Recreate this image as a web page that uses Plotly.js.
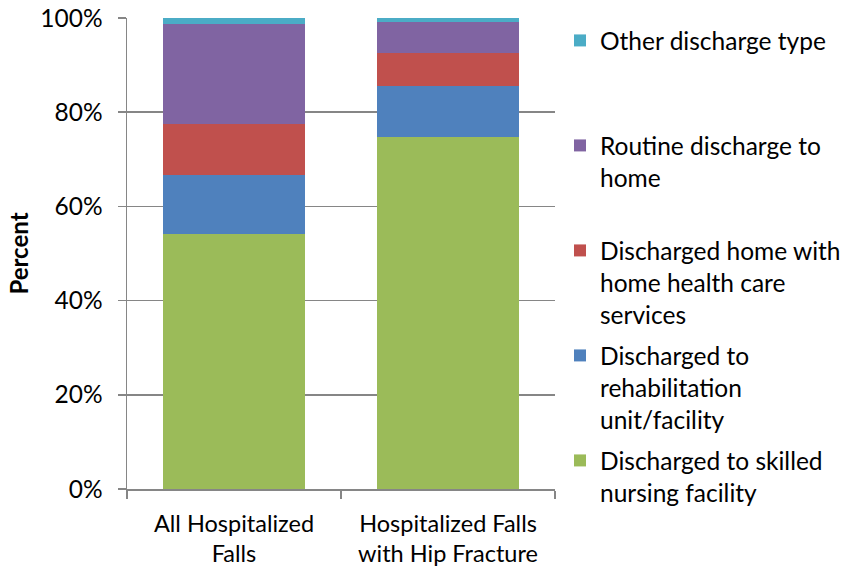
<!DOCTYPE html>
<html>
<head>
<meta charset="utf-8">
<script src="https://cdn.plot.ly/plotly-3.0.1.min.js"></script>
<style>html,body{margin:0;padding:0;background:#fff;}</style>
</head>
<body>
<div id="chart" style="width:844px;height:569px;"></div>
<script>
const categories = ["All Hospitalized<br>Falls", "Hospitalized Falls<br>with Hip Fracture"];
const skilledNursing = [54.1, 74.7];
const rehabilitation = [12.5, 10.8];
const homeHealth = [11.0, 7.0];
const routineHome = [21.2, 6.6];
const otherDischarge = [1.2, 0.9];
const seriesNames = [
  "Discharged to skilled<br>nursing facility",
  "Discharged to<br>rehabilitation<br>unit/facility",
  "Discharged home with<br>home health care<br>services",
  "Routine discharge to<br>home",
  "Other discharge type"
];
const seriesColors = ["#9BBB59", "#4F81BD", "#C0504D", "#8064A2", "#4BACC6"];
const seriesValues = [skilledNursing, rehabilitation, homeHealth, routineHome, otherDischarge];
const tickVals = [0, 20, 40, 60, 80, 100];

const FONT = "Lato, 'Open Sans', sans-serif";
const FS = 24.5;
const legendIds = ["legend5", "legend4", "legend3", "legend2", "legend"];
const legendTopPx = [438, 333, 228, 123, 18];

const traces = seriesValues.map((vals, i) => ({
  type: "bar",
  x: categories,
  y: vals,
  name: seriesNames[i],
  marker: {color: seriesColors[i], line: {width: 0}},
  legend: legendIds[i],
  hoverinfo: "y+name"
}));

const layout = {
  width: 844,
  height: 569,
  barmode: "stack",
  bargap: 0.335,
  paper_bgcolor: "#ffffff",
  plot_bgcolor: "#ffffff",
  margin: {l: 127, r: 289, t: 18, b: 80, autoexpand: false},
  font: {family: FONT, size: FS, color: "#000000"},
  showlegend: true,
  xaxis: {
    type: "category",
    showline: true,
    linecolor: "#868686",
    linewidth: 1.5,
    ticks: "outside",
    tickson: "boundaries",
    ticklen: 8,
    tickcolor: "#868686",
    tickwidth: 1.5,
    showgrid: false,
    ticklabelstandoff: 13,
    tickfont: {family: FONT, size: 23.5, color: "#000"}
  },
  yaxis: {
    range: [0, 100],
    tickvals: tickVals,
    ticktext: tickVals.map(v => v + "%"),
    showline: true,
    linecolor: "#868686",
    linewidth: 1.5,
    ticks: "outside",
    ticklen: 8,
    tickcolor: "#868686",
    tickwidth: 1.5,
    showgrid: true,
    gridcolor: "#868686",
    gridwidth: 1.5,
    zeroline: false,
    ticklabelstandoff: 10,
    tickfont: {family: FONT, size: FS, color: "#000"},
    title: {text: "<b>Percent</b>", font: {family: FONT, size: 24, color: "#000"}, standoff: 5}
  }
};
legendIds.forEach((id, i) => {
  layout[id] = {
    x: (560 - 127) / 428,
    xanchor: "left",
    y: (489 - legendTopPx[i]) / 471,
    yanchor: "top",
    valign: "top",
    bgcolor: "rgba(0,0,0,0)",
    font: {family: FONT, size: FS, color: "#000"}
  };
});

Plotly.newPlot("chart", traces, layout, {displayModeBar: false, staticPlot: true});
</script>
</body>
</html>
